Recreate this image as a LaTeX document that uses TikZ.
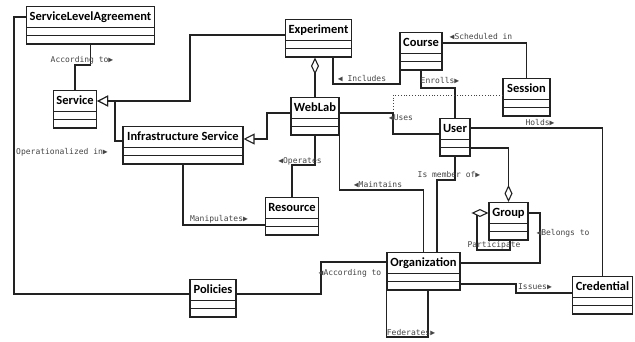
\documentclass[tikz,border=0pt]{standalone}
\usepackage{fontspec}
\usepackage{tikz}
\usetikzlibrary{arrows.meta,shapes.multipart}
\newfontfamily\namefont{Carlito}
\newfontfamily\lblfont{DejaVu Sans Mono}
\definecolor{ink}{HTML}{222222}
\definecolor{note}{HTML}{444444}
\newcommand{\umlname}[1]{\rule[-5pt]{0pt}{16.5pt}#1\nodepart{two}\nodepart{three}}

\begin{document}
\begin{tikzpicture}[
  x=1pt, y=-1pt,
  cls/.style={
    rectangle split,
    rectangle split parts=3,
    rectangle split empty part height=3pt,
    rectangle split empty part depth=0pt,
    draw=ink,
    line width=1.1pt,
    fill=white,
    anchor=north,
    inner xsep=3pt,
    inner ysep=1.5pt,
    font=\namefont\bfseries\fontsize{12.5}{12.5}\selectfont
  },
  assoc/.style={draw=ink, line width=1.1pt},
  gen/.style={assoc, -{Triangle[open, fill=white, length=11pt, width=11pt]}},
  aggr/.style={assoc, {Diamond[open, fill=white, length=17pt, width=8pt]}-},
  link/.style={draw=note, line width=0.8pt, dotted},
  lbl/.style={font=\lblfont\fontsize{8}{8}\selectfont, text=note, inner sep=0pt}
]
\useasboundingbox (0,0) rectangle (635,342);

\node[cls, minimum width=127pt] (sla) at (90.5,6) {\umlname{ServiceLevelAgreement}};
\node[cls, minimum width=42pt] (service) at (75,90) {\umlname{Service}};
\node[cls, minimum width=65pt] (experiment) at (318.5,19) {\umlname{Experiment}};
\node[cls, minimum width=42pt] (course) at (421,32) {\umlname{Course}};
\node[cls, minimum width=47pt] (session) at (526.5,78) {\umlname{Session}};
\node[cls, minimum width=120pt] (infra) at (183,126) {\umlname{Infrastructure Service}};
\node[cls, minimum width=48pt] (weblab) at (315,97) {\umlname{WebLab}};
\node[cls, minimum width=30pt] (user) at (455,118) {\umlname{User}};
\node[cls, minimum width=52pt] (resource) at (292,197) {\umlname{Resource}};
\node[cls, minimum width=39pt] (group) at (508.5,202) {\umlname{Group}};
\node[cls, minimum width=73pt] (org) at (423.5,252) {\umlname{Organization}};
\node[cls, minimum width=46pt] (policies) at (213,279) {\umlname{Policies}};
\node[cls, minimum width=59pt] (credential) at (602.5,276) {\umlname{Credential}};
\coordinate (uses) at (393,134);

\draw[assoc] (sla.south) |- (service.north |- 0,65) -- (service.north);
\draw[assoc] (sla.north west |- 0,17) -- (14,17) |- (policies.west |- 0,294);
\draw[assoc] (policies.east |- 0,294) -- (321,294) |- (org.west |- 0,262);
\draw[gen] (experiment.west |- 0,35) -- (190,35) |- (service.east |- 0,101);
\draw[gen] (infra.west |- 0,141) -- (115,141) |- (service.east |- 0,101);
\draw[gen] (weblab.west |- 0,113) -- (267,113) |- (infra.east |- 0,139);
\draw[aggr] (weblab.north |- experiment.south) -- (weblab.north);
\draw[assoc] (experiment.south -| 333,0) -- (333,84) -| ([xshift=0.5pt]course.south west);
\draw[assoc] (course.east |- 0,43) -| (session.north);
\draw[assoc] (course.south) |- (user.north |- 0,88) -- (user.north);
\draw[link] (session.west |- 0,95) -| (uses);
\draw[assoc] (weblab.east |- 0,113) -- (393,113) |- (user.west |- 0,134);
\draw[assoc] (user.east |- 0,128) -| (credential.north);
\draw[aggr] (group.north) |- (user.east |- 0,148);
\draw[assoc] (user.south) |- (437,180) -- (org.north -| 437,0);
\draw[assoc] (weblab.south east) |- (org.north |- 0,190) -- (org.north);
\draw[assoc] (weblab.south) |- (resource.north |- 0,165) -- (resource.north);
\draw[assoc] (infra.south) |- (resource.west |- 0,225);
\draw[aggr] (group.west |- 0,213) -- (477,213) |- (510,250) -- (group.south -| 510,0);
\draw[assoc] (group.east |- 0,213) -- (540,213) |- (org.east |- 0,263);
\draw[assoc] (org.east |- 0,284) -- (516,284) |- (credential.west |- 0,293);
\draw[assoc] (org.south west) |- (428,337) -- (org.south -| 428,0);

\node[lbl] (accsla) at (82,60) {According to▶};
\node[lbl] (oper) at (62,152) {Operationalized in▶};
\node[lbl] (accpol) at (350,273) {◀According to};
\node[lbl] (incl) at (362,79) {◀ Includes};
\node[lbl] (sched) at (481,37) {◀Scheduled in};
\node[lbl] (enrol) at (440,81) {Enrolls▶};
\node[lbl] (useslbl) at (401,118) {◀Uses};
\node[lbl] (holds) at (540,123) {Holds▶};
\node[lbl] (member) at (449,175) {Is member of▶};
\node[lbl] (maint) at (378,185) {◀Maintains};
\node[lbl] (operates) at (300,161) {◀Operates};
\node[lbl] (manip) at (219,219) {Manipulates▶};
\node[lbl] (part) at (494,245) {Participate};
\node[lbl] (belong) at (563,233) {◀Belongs to};
\node[lbl] (issues) at (535,287) {Issues▶};
\node[lbl] (fed) at (411,333) {Federates▶};

\end{tikzpicture}
\end{document}
